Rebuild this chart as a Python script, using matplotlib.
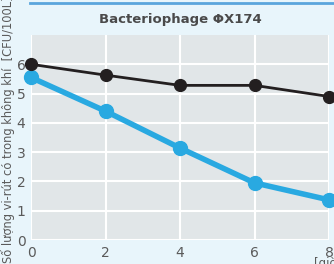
import matplotlib.pyplot as plt

plt.rcParams['font.family'] = ['Liberation Sans Narrow', 'DejaVu Sans']

hours = [0, 2, 4, 6, 8]
black_series = [6.0, 5.63, 5.28, 5.28, 4.9]
blue_series = [5.55, 4.4, 3.14, 1.95, 1.37]

x_ticks = [0, 2, 4, 6, 8]
y_ticks = [0, 1, 2, 3, 4, 5, 6]

bg = '#e8f5fb'
fig = plt.figure(figsize=(3.34, 2.64), dpi=100, facecolor=bg)
ax = fig.add_axes([31 / 334, 1 - 240 / 264, 298 / 334, 205 / 264])
ax.set_facecolor('#e1e6e8')

ax.plot(hours, blue_series, color='#29a9e1', lw=4, marker='o', ms=10,
        clip_on=False, zorder=3)
ax.plot(hours, black_series, color='#231f20', lw=2, marker='o', ms=8.5,
        clip_on=False, zorder=4)

ax.set_xlim(0, 8)
ax.set_ylim(0, 7)
ax.set_xticks(x_ticks)
ax.set_yticks(y_ticks)
ax.grid(True, color='white', lw=1.5)
ax.set_axisbelow(True)
for s in ax.spines.values():
    s.set_visible(False)
ax.tick_params(length=0, labelsize=10, colors='#5a5a5a', pad=4)

ax.set_title('Bacteriophage ΦX174', fontsize=9.5, fontweight='bold',
             color='#4a4a4a', pad=9)

fig.text(8 / 334, 1 - 130 / 264, 'Số lượng vi-rút có trong không khí  [CFU/100L]',
         rotation=90, ha='center', va='center', fontsize=8.3, color='#5a5a5a')
fig.text(314 / 334, 1 - 263 / 264, '[giờ]', ha='left', va='center',
         fontsize=8.5, color='#5a5a5a')

# blue rule at the top
fig.add_artist(plt.Line2D([30 / 334, 1], [1 - 2.5 / 264, 1 - 2.5 / 264],
                          color='#5aa5dc', lw=2))

plt.savefig('out.png', dpi=100, facecolor=bg)
